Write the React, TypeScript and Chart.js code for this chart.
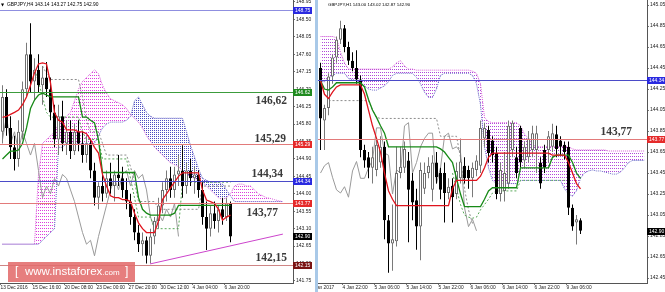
import React, { useEffect, useRef } from "react";
import { Chart, registerables } from "chart.js";

Chart.register(...registerables);

const symbolName = "GBPJPY";

/* ===================== H4 panel (left) ===================== */
const h4Title = [143.14, 143.27, 142.75, 142.9];
const h4Open = [
  145.6, 146.5, 145.7, 145.2, 144.9, 145.6, 146.7, 147.6, 146.9, 147.2,
  146.8, 147.0, 146.7, 146.1, 145.4, 146.0, 145.3, 145.6, 145.1, 145.6,
  145.3, 145.0, 145.3, 144.6, 143.9, 144.2, 144.0, 144.4, 144.2, 144.5,
  144.4, 144.1, 143.8, 143.4, 143.0, 142.7, 142.8, 142.4, 142.9, 143.3,
  143.7, 144.1, 144.4, 144.1, 144.5, 144.6, 144.2, 144.6, 144.4, 144.5,
  144.1, 143.4, 143.1, 143.5, 143.3, 143.6, 143.4, 143.75,
];
const h4High = [
  146.8, 146.7, 146.0, 145.5, 145.9, 146.9, 147.9, 148.4, 147.5, 147.6,
  147.3, 147.4, 147.0, 146.3, 146.3, 146.4, 145.9, 145.9, 145.8, 145.9,
  145.6, 145.5, 145.4, 144.8, 144.3, 144.5, 144.6, 144.8, 144.6, 145.0,
  144.7, 144.4, 144.0, 143.6, 143.2, 143.0, 142.9, 143.1, 143.4, 143.9,
  144.3, 144.6, 144.7, 144.7, 145.0, 145.25, 144.8, 144.9, 144.7, 144.6,
  144.3, 143.8, 143.7, 143.8, 143.7, 143.9, 143.9, 143.8,
];
const h4Low = [
  145.3, 145.5, 144.9, 144.6, 144.7, 145.4, 146.5, 146.6, 146.4, 146.6,
  146.3, 146.5, 145.9, 145.2, 145.0, 145.1, 145.0, 144.9, 145.0, 145.1,
  144.8, 144.8, 144.4, 143.7, 143.6, 143.8, 143.9, 144.0, 143.8, 144.2,
  143.9, 143.6, 143.2, 142.8, 142.5, 142.4, 142.2, 142.2, 142.7, 143.1,
  143.5, 143.8, 143.9, 143.9, 144.2, 143.9, 144.0, 144.2, 144.0, 143.9,
  143.2, 142.55, 142.9, 143.1, 143.0, 143.2, 143.3, 142.75,
];
const h4Close = [
  146.5, 145.7, 145.2, 144.9, 145.6, 146.7, 147.6, 146.9, 147.2, 146.8,
  147.0, 146.7, 146.1, 145.4, 146.0, 145.3, 145.6, 145.1, 145.6, 145.3,
  145.0, 145.3, 144.6, 143.9, 144.2, 144.0, 144.4, 144.2, 144.5, 144.4,
  144.1, 143.8, 143.4, 143.0, 142.7, 142.8, 142.4, 142.9, 143.3, 143.7,
  144.1, 144.4, 144.1, 144.5, 144.6, 144.2, 144.6, 144.4, 144.5, 144.1,
  143.4, 143.1, 143.5, 143.3, 143.6, 143.4, 143.75, 142.9,
];
const h4Tenkan = [
  145.97, 146.0, 146.05, 146.1, 146.16, 146.3, 146.5, 146.8, 147.12, 147.35,
  147.38, 147.35, 146.86, 146.1, 145.9, 145.85, 145.65, 145.65, 145.65, 145.6,
  145.6, 145.55, 145.4, 145.2, 145.05, 144.5, 144.2, 143.95, 143.9, 143.9,
  143.85, 143.85, 143.8, 143.5, 143.25, 143.1, 143.0, 143.0, 143.0, 143.3,
  143.85, 144.0, 144.15, 144.3, 144.45, 144.54, 144.54, 144.54, 144.54, 144.54,
  144.1, 143.84, 143.8, 143.75, 143.6, 143.32, 143.4, 143.45,
];
const h4Kijun = [
  144.9, 145.0, 145.1, 145.1, 145.13, 145.3, 145.7, 146.2, 146.42, 146.55,
  146.6, 146.55, 146.5, 146.5, 146.5, 146.5, 146.5, 146.5, 146.5, 146.5,
  145.98, 145.98, 145.9, 145.83, 145.4, 144.55, 144.55, 144.55, 144.55, 144.55,
  144.55, 144.55, 144.55, 144.55, 143.9, 143.6, 143.5, 143.45, 143.45, 143.45,
  143.45, 143.45, 143.45, 143.5, 143.7, 143.7, 143.7, 143.7, 143.7, 143.7,
  143.7, 143.7, 143.7, 143.7, 143.7, 143.7, 143.7, 143.7,
];
const h4SpanA = [
  142.7, 142.7, 142.7, 142.7, 142.7, 142.7, 142.7, 142.7, 142.7, 144.5,
  145.3, 145.4, 145.5, 145.6, 145.8, 145.9, 146.0, 146.1, 146.4, 146.7,
  146.9, 147.0, 147.1, 147.2, 147.1, 146.8, 146.6, 146.45, 146.4, 146.35,
  146.3, 146.2, 146.05, 145.95, 145.85, 145.7, 145.5, 145.35, 145.2, 145.1,
  145.0, 144.9, 144.8, 144.75, 144.7, 144.6, 144.5, 144.45, 144.4, 144.35,
  144.3, 144.2, 144.1, 144.0, 143.9, 143.85, 143.9, 144.0, 144.2, 144.25,
  144.25, 144.2, 144.2, 144.1, 144.0, 143.95, 143.9, 143.88, 143.85, 143.82,
  143.8,
];
const h4SpanB = [
  142.7, 142.7, 142.7, 142.7, 142.7, 142.7, 142.7, 142.7, 142.7, 142.7,
  142.8, 142.9, 143.0, 143.1, 145.2, 145.2, 145.3, 145.3, 145.3, 145.3,
  145.3, 145.3, 145.3, 145.3, 145.5, 145.7, 145.8, 145.85, 145.85, 145.85,
  145.85, 145.9, 146.0, 146.4, 146.5, 146.3, 146.1, 146.0, 145.95, 145.95,
  145.95, 145.95, 145.95, 145.95, 145.95, 145.95, 145.6, 145.25, 144.95, 144.65,
  144.4, 144.35, 144.3, 144.3, 144.3, 144.25, 144.1, 143.95, 143.8, 143.8,
  143.8, 143.8, 143.8, 143.8, 143.8, 143.8, 143.8, 143.8, 143.8, 143.8,
  143.8,
];
const h4DashGray = [
  null, null, null, null, null, null, null, null, null, null,
  147.3, 147.1, 146.95, 146.95, 146.95, 146.95, 146.95, 146.95, 146.95, 146.95,
  146.5, 145.9, 145.6, 145.6, 145.6, 145.3, 145.0, 145.0, 145.0, 145.0,
  145.0, 145.0, 144.7, 144.3, 143.8, 143.8, 143.8, 143.8, 143.8, 143.6,
  143.6, 143.6, 143.6, 143.6, 143.6, 143.6, 143.6, 143.6, 143.6, 143.6,
  144.2, 144.2, 144.2, 144.2, 144.2, 144.2, 144.2, 144.2,
];
const h4DashGreen = [
  null, null, null, null, null, null, null, null, 147.2, 146.9,
  146.5, 146.1, 145.98, 145.98, 145.98, 145.98, 145.98, 145.98, 145.98, 145.98,
  145.6, 145.4, 145.4, 145.4, 145.4, 144.9, 144.9, 144.9, 144.9, 144.9,
  144.9, 144.9, 144.4, 143.9, 143.4, 143.4, 143.4, 143.4, 143.1, 143.1,
  143.1, 143.1, 143.1, 143.1, 143.1, 144.3, 144.3, 144.3, 144.3, 144.3,
  144.3, 144.3, 144.3, 144.3, 144.3, 144.3, 144.3, 144.3,
];
const h4ChikouShift = 13;
const h4TrendX = [36.9, 70.1];
const h4TrendY = [142.19, 142.96];
const h4YTicks = [
  148.95, 148.5, 148.05, 147.6, 147.15, 146.7, 146.25, 145.8, 145.35,
  144.9, 144.45, 144.0, 143.55, 143.1, 142.65, 142.2, 141.75,
];
const h4XLabels = [
  "13 Dec 2016", "15 Dec 16:00", "20 Dec 08:00", "23 Dec 00:00",
  "27 Dec 20:00", "30 Dec 12:00", "4 Jan 04:00", "6 Jan 20:00",
];
const h4XLabelBars = [0, 8, 16, 24, 32, 40, 48, 56];
const h4Levels = [148.75, 146.62, 145.29, 144.34, 143.77, 142.15];
const h4LevelKinds = ["violet", "green", "red", "blue", "red", "maroon"];
const h4Callouts = [146.62, 145.29, 144.34, 143.77, 142.15];

/* ===================== H1 panel (right) ===================== */
const h1Title = [143.0, 143.02, 142.87, 142.9];
const h1Open = [
  144.45, 143.95, 144.07, 144.37, 144.55, 144.72, 144.83, 144.65, 144.52, 144.45,
  144.34, 143.67, 143.6, 143.5, 143.48, 143.55, 143.7, 143.0, 142.78, 142.8,
  143.45, 143.5, 143.57, 143.38, 143.19, 142.94, 143.3, 143.45, 143.29, 143.55,
  143.45, 143.45, 143.26, 143.33, 143.25, 143.4, 143.52, 143.48, 143.4, 143.48,
  143.52, 143.78, 143.86, 143.76, 143.64, 143.25, 143.28, 143.35, 143.67, 143.6,
  143.88, 143.57, 143.6, 143.67, 143.67, 143.55, 143.67, 143.67, 143.7, 143.82,
  143.76, 143.72, 143.7, 143.12, 142.98, 143.0,
];
const h1High = [
  144.5, 144.1, 144.4, 144.58, 144.75, 144.9, 144.86, 144.7, 144.6, 144.62,
  144.38, 143.72, 143.65, 143.7, 143.78, 143.8, 143.75, 143.05, 143.15, 143.7,
  143.7, 143.75, 143.65, 143.45, 143.3, 143.55, 143.55, 143.6, 143.62, 143.65,
  143.5, 143.55, 143.4, 143.4, 143.55, 143.78, 143.6, 143.52, 143.55, 143.62,
  143.95, 143.93, 143.9, 143.8, 143.7, 143.55, 143.65, 143.95, 143.95, 143.7,
  143.9, 143.75, 143.85, 143.9, 143.9, 143.6, 143.72, 143.85, 143.92, 143.9,
  143.8, 143.75, 143.75, 143.15, 143.05, 143.02,
];
const h1Low = [
  143.67, 143.67, 144.0, 144.3, 144.5, 144.68, 144.6, 144.48, 144.42, 144.3,
  143.6, 143.5, 143.4, 143.35, 143.42, 143.5, 142.82, 142.5, 142.52, 142.75,
  143.4, 143.45, 142.79, 143.0, 142.72, 142.62, 143.25, 143.4, 143.18, 143.35,
  143.2, 142.98, 143.2, 142.98, 143.2, 143.35, 143.35, 143.3, 143.22, 143.42,
  143.45, 143.7, 143.55, 143.55, 143.2, 143.18, 143.18, 143.3, 143.6, 143.4,
  143.5, 143.5, 143.55, 143.6, 143.45, 143.3, 143.45, 143.55, 143.65, 143.6,
  143.62, 143.58, 143.05, 142.9, 142.77, 142.87,
];
const h1Close = [
  143.97, 144.07, 144.37, 144.55, 144.72, 144.83, 144.65, 144.52, 144.45, 144.34,
  143.67, 143.57, 143.5, 143.6, 143.72, 143.7, 143.0, 142.78, 142.82, 143.45,
  143.51, 143.68, 143.29, 143.17, 142.94, 143.48, 143.45, 143.52, 143.55, 143.41,
  143.29, 143.26, 143.32, 143.22, 143.47, 143.56, 143.4, 143.4, 143.5, 143.57,
  143.88, 143.88, 143.64, 143.62, 143.25, 143.48, 143.45, 143.9, 143.93, 143.45,
  143.55, 143.7, 143.78, 143.83, 143.83, 143.35, 143.5, 143.8, 143.83, 143.68,
  143.7, 143.65, 143.12, 142.94, 143.01, 142.9,
];
const h1Tenkan = [
  144.33, 144.2, 144.16, 144.22, 144.27, 144.29, 144.29, 144.29, 144.29, 144.29,
  144.29, 144.2, 144.05, 143.9, 143.78, 143.65, 143.45, 143.28, 143.2, 143.14,
  143.14, 143.14, 143.14, 143.14, 143.14, 143.14, 143.14, 143.14, 143.14, 143.14,
  143.14, 143.14, 143.14, 143.3, 143.38, 143.38, 143.38, 143.38, 143.38, 143.38,
  143.42, 143.5, 143.6, 143.64, 143.64, 143.64, 143.64, 143.64, 143.64, 143.64,
  143.64, 143.64, 143.64, 143.64, 143.64, 143.64, 143.64, 143.64, 143.62, 143.62,
  143.62, 143.62, 143.55, 143.45, 143.35, 143.3,
];
const h1Kijun = [
  144.33, 144.25, 144.24, 144.27, 144.31, 144.31, 144.31, 144.31, 144.31, 144.31,
  144.31, 144.27, 144.15, 144.05, 143.98, 143.9, 143.83, 143.7, 143.7, 143.7,
  143.7, 143.7, 143.7, 143.7, 143.7, 143.7, 143.7, 143.7, 143.7, 143.7,
  143.68, 143.65, 143.6, 143.55, 143.4, 143.25, 143.13, 143.13, 143.13, 143.13,
  143.13, 143.2, 143.28, 143.31, 143.31, 143.31, 143.31, 143.31, 143.31, 143.31,
  143.5, 143.5, 143.5, 143.5, 143.5, 143.5, 143.5, 143.5, 143.6, 143.62,
  143.62, 143.62, 143.62, 143.55, 143.45, 143.4,
];
const h1SpanA = [
  144.75, 144.75, 144.75, 144.75, 144.74, 144.6, 144.5, 144.44, 144.44, 144.44,
  144.44, 144.44, 144.44, 144.44, 144.44, 144.44, 144.44, 144.44, 144.46, 144.5,
  144.52, 144.47, 144.44, 144.44, 144.43, 144.43, 144.43, 144.43, 144.43, 144.43,
  144.43, 144.43, 144.43, 144.43, 144.43, 144.43, 144.43, 144.43, 144.42, 144.4,
  144.3, 143.98, 143.94, 143.93, 143.93, 143.93, 143.93, 143.93, 143.93, 143.93,
  143.9, 143.82, 143.78, 143.72, 143.7, 143.7, 143.7, 143.7, 143.7, 143.7,
  143.7, 143.7, 143.7, 143.68, 143.67, 143.67, 143.67, 143.67, 143.67, 143.67,
  143.67, 143.67, 143.66, 143.66, 143.66, 143.66, 143.66, 143.66, 143.66, 143.66,
  143.66, 143.66,
];
const h1SpanB = [
  144.32, 144.32, 144.35, 144.38, 144.4, 144.4, 144.4, 144.35, 144.34, 144.33,
  144.3, 144.28, 144.25, 144.24, 144.24, 144.26, 144.28, 144.32, 144.38, 144.4,
  144.4, 144.4, 144.4, 144.4, 144.36, 144.3, 144.22, 144.17, 144.17, 144.25,
  144.38, 144.4, 144.4, 144.4, 144.4, 144.4, 144.4, 144.4, 144.38, 144.3,
  144.1, 143.7, 143.5, 143.38, 143.35, 143.35, 143.35, 143.35, 143.35, 143.35,
  143.38, 143.38, 143.38, 143.38, 143.38, 143.38, 143.38, 143.38, 143.38, 143.38,
  143.38, 143.3, 143.25, 143.23, 143.28, 143.4, 143.45, 143.47, 143.48, 143.47,
  143.47, 143.46, 143.45, 143.44, 143.44, 143.46, 143.5, 143.55, 143.57, 143.57,
  143.57, 143.57,
];
const h1DashGray = [
  null, null, 144.14, 144.14, 144.14, 144.14, 144.14, 144.14, 144.14, 144.14,
  144.14, 144.14, 144.14, 144.05, 143.98, 143.97, 143.97, 143.97, 143.97, 143.97,
  143.97, 143.97, 143.97, 143.97, 143.97, 143.97, 143.97, 143.97, 143.97, 143.97,
  143.8, 143.8, 143.8, 143.8, 143.8, 143.6, 143.3, 143.1, 142.97, null,
  null, null, null, null, null, null, null, null, null, null,
  null, null, null, null, null, null, null, null, null, null,
  null, null, null, null, null, null,
];
const h1DashGreen = [
  null, null, null, null, null, null, null, null, null, null,
  null, null, null, null, null, null, null, null, null, null,
  null, null, null, null, null, null, null, null, null, null,
  null, null, null, 143.45, 143.3, 143.15, 143.05, 143.03, 143.02, 143.03,
  143.1, 143.15, 143.2, 143.26, 143.28, 143.28, 143.28, 143.28, 143.28, 143.28,
  143.38, 143.38, 143.38, 143.38, 143.38, 143.38, 143.38, 143.38, 143.38, 143.38,
  143.38, 143.38, 143.38, null, null, null,
];
const h1ChikouShift = 26;
const h1YTicks = [
  145.05, 144.85, 144.65, 144.45, 144.25, 144.05, 143.85, 143.65, 143.45,
  143.25, 143.05, 142.85, 142.65, 142.45,
];
const h1XLabels = [
  "4 Jan 22:00", "5 Jan 06:00", "5 Jan 14:00", "5 Jan 22:00",
  "6 Jan 06:00", "6 Jan 14:00", "6 Jan 22:00", "9 Jan 06:00",
];
const h1XLabelBars = [6, 14, 22, 30, 38, 46, 54, 62];
const h1FirstLabel = "3 Jan 2017";
const h1FirstLabelBar = -2;
const h1Levels = [144.34, 143.77];
const h1LevelKinds = ["blue", "red"];
const h1Callouts = [143.77];

/* ===================== styling ===================== */
const FONT = '"Liberation Sans", Arial, sans-serif';
const LEVEL_STYLE: any = {
  violet: { line: "#8f8fe0", box: "#2a2ae0" },
  green: { line: "#3c9c3c", box: "#1e8a1e" },
  red: { line: "#e27a7a", box: "#e52a2a" },
  blue: { line: "#4b4bc8", box: "#2a2ae0" },
  maroon: { line: "#cf8585", box: "#7a1414" },
};

function makeDots(ctx: CanvasRenderingContext2D, color: string, w: number, h: number) {
  const c = document.createElement("canvas");
  c.width = w;
  c.height = h;
  const g = c.getContext("2d")!;
  g.fillStyle = color;
  g.fillRect(0, 0, 1, 1);
  return ctx.createPattern(c, "repeat");
}

function makeOverlay(o: any) {
  return {
    id: "overlay",
    afterDatasetsDraw(chart: any) {
      const { ctx, chartArea: a, scales } = chart;
      const y = scales.y;
      ctx.save();
      ctx.beginPath();
      ctx.rect(a.left, a.top, a.right - a.left, a.bottom - a.top);
      ctx.clip();
      o.levels.forEach((v: number, k: number) => {
        const py = Math.round(y.getPixelForValue(v)) + 0.5;
        ctx.strokeStyle = LEVEL_STYLE[o.kinds[k]].line;
        ctx.lineWidth = 1;
        ctx.beginPath();
        ctx.moveTo(a.left, py);
        ctx.lineTo(a.right, py);
        ctx.stroke();
      });
      ctx.restore();
    },
    afterDraw(chart: any) {
      const { ctx, chartArea: a, scales } = chart;
      const y = scales.y;
      const x = scales.x;
      ctx.save();
      const boxes = o.levels.map((v: number, k: number) => ({ v, c: LEVEL_STYLE[o.kinds[k]].box }));
      boxes.push({ v: o.current, c: "#000" });
      ctx.font = `5px ${FONT}`;
      ctx.textBaseline = "middle";
      ctx.textAlign = "left";
      for (const b of boxes) {
        const py = Math.round(y.getPixelForValue(b.v));
        ctx.fillStyle = b.c;
        ctx.fillRect(a.right, py - 3, o.boxW, 7);
        ctx.fillStyle = "#fff";
        ctx.fillText(b.v.toFixed(2), a.right + 2, py + 0.5);
      }
      ctx.font = `bold 11.5px "Liberation Serif", "Times New Roman", serif`;
      ctx.textAlign = "right";
      ctx.textBaseline = "alphabetic";
      ctx.fillStyle = "#3a3a3a";
      o.callouts.forEach((v: number, k: number) => {
        const L = o.calloutLayout[k];
        const py = Math.round(y.getPixelForValue(v));
        ctx.fillText(v.toFixed(2).replace(".", ","), a.right - L.dx, py + L.dy);
      });
      ctx.textAlign = "left";
      ctx.textBaseline = "middle";
      ctx.fillStyle = "#000";
      if (o.triangle) {
        ctx.font = `4px "DejaVu Sans", sans-serif`;
        ctx.fillText("▼", a.left + 1, 4.5);
      }
      ctx.font = `${o.titleSize}px ${FONT}`;
      ctx.fillText(o.title, a.left + o.titleDx, 4.5);
      if (o.firstLabel) {
        ctx.font = `4.8px ${FONT}`;
        ctx.fillStyle = "#222";
        ctx.textBaseline = "top";
        ctx.fillText(o.firstLabel.text, x.getPixelForValue(o.firstLabel.bar - 0.5), a.bottom + 2);
      }
      if (o.watermark) {
        ctx.fillStyle = "rgba(226, 108, 108, 0.88)";
        ctx.fillRect(8, 262, 127, 20);
        ctx.fillStyle = "#fff";
        ctx.textBaseline = "middle";
        ctx.textAlign = "left";
        ctx.font = `12px ${FONT}`;
        ctx.fillText("[", 15, 272);
        ctx.font = `11.5px ${FONT}`;
        ctx.fillText("www.instaforex", 25, 272);
        const w = ctx.measureText("www.instaforex").width;
        ctx.font = `8px ${FONT}`;
        ctx.fillText(".com", 25 + w, 273);
        ctx.font = `12px ${FONT}`;
        ctx.fillText("]", 125, 272);
      }
      ctx.restore();
    },
  };
}

function buildConfig(canvas: HTMLCanvasElement, p: any): any {
  const ctx2d = canvas.getContext("2d")!;
  const pink = makeDots(ctx2d, p.pinkDot, 2, 3);
  const blue = makeDots(ctx2d, "#4c4cc0", 2, 2);
  const pts = (arr: any[]) => arr.map((v, i) => ({ x: i, y: v }));
  const bull = (i: number) => p.close[i] >= p.open[i];
  const line = (extra: any) => ({
    type: "line",
    pointRadius: 0,
    pointHoverRadius: 0,
    borderWidth: 1,
    fill: false,
    tension: 0,
    ...extra,
  });
  const datasets: any[] = [
    line({
      data: p.trendX ? p.trendX.map((x: number, k: number) => ({ x, y: p.trendY[k] })) : [],
      borderColor: "#cc44cc",
      order: 1,
    }),
    line({ data: pts(p.tenkan), borderColor: "#e0141e", borderWidth: 1.3, order: 2 }),
    line({ data: pts(p.kijun), borderColor: "#178a17", borderWidth: 1.3, order: 3 }),
    {
      type: "bar",
      data: p.open.map((o: number, i: number) => ({ x: i, y: [o, p.close[i]] })),
      backgroundColor: p.open.map((_: number, i: number) => (bull(i) ? "#ffffff" : "#000000")),
      borderColor: p.open.map((_: number, i: number) => (bull(i) ? "#6e6e6e" : "#000000")),
      borderWidth: 1,
      borderSkipped: false,
      barThickness: 3,
      grouped: false,
      minBarLength: 1,
      inflateAmount: 0,
      order: 4,
    },
    {
      type: "bar",
      data: p.low.map((l: number, i: number) => ({ x: i, y: [l, p.high[i]] })),
      backgroundColor: p.open.map((_: number, i: number) => (bull(i) ? "#7a7a7a" : "#000000")),
      borderWidth: 0,
      barThickness: 1,
      grouped: false,
      inflateAmount: 0,
      order: 5,
    },
    line({ data: pts(p.dashGreen), borderColor: "#58a858", borderDash: [2, 2], order: 6 }),
    line({ data: pts(p.dashGray), borderColor: "#8c8c8c", borderDash: [2, 2], order: 7 }),
    line({ data: pts(p.close.slice(p.shift)), borderColor: "#9a9a9a", order: 8 }),
    line({
      data: pts(p.spanA),
      borderColor: "#d860d8",
      borderDash: [1, 1],
      fill: { target: "+1", above: pink, below: blue },
      order: 10,
    }),
    line({ data: pts(p.spanB), borderColor: "#6a6ac8", borderDash: [1, 1], order: 9 }),
  ];
  return {
    type: "bar",
    data: { datasets },
    options: {
      responsive: false,
      animation: false,
      devicePixelRatio: 1,
      events: [],
      layout: { padding: { left: p.padLeft, right: 0, top: 0, bottom: 0 } },
      plugins: { legend: { display: false }, tooltip: { enabled: false }, title: { display: false } },
      scales: {
        x: {
          type: "linear",
          min: p.xMin,
          max: p.xMax,
          offset: false,
          grid: { display: true, drawOnChartArea: false, drawTicks: true, tickLength: 2, color: "#777", offset: false },
          border: { display: true, color: "#555", width: 1 },
          ticks: {
            autoSkip: false,
            maxRotation: 0,
            minRotation: 0,
            align: "start",
            padding: 0,
            color: "#222",
            font: { size: 4.8, family: FONT },
            callback: (_v: any, i: number) => p.xLabels[i] ?? "",
          },
          afterBuildTicks: (s: any) => {
            s.ticks = p.xBars.map((b: number) => ({ value: b - 0.5 }));
          },
          afterFit: (s: any) => {
            s.height = 9;
            s.paddingLeft = 0;
            s.paddingRight = 0;
          },
        },
        y: {
          type: "linear",
          position: "right",
          min: p.yMin,
          max: p.yMax,
          beginAtZero: false,
          grid: { display: true, drawOnChartArea: false, drawTicks: true, tickLength: 2, color: "#777" },
          border: { display: true, color: "#555", width: 1 },
          ticks: {
            autoSkip: false,
            padding: 1,
            color: "#222",
            font: { size: 5, family: FONT },
            callback: (v: any) => Number(v).toFixed(2),
          },
          afterBuildTicks: (s: any) => {
            s.ticks = p.yTicks.map((v: number) => ({ value: v }));
          },
          afterFit: (s: any) => {
            s.width = p.axisW;
            s.paddingTop = 0;
            s.paddingBottom = 0;
          },
        },
      },
    },
    plugins: [makeOverlay(p.overlay)],
  };
}

export default function App() {
  const leftRef = useRef<HTMLCanvasElement>(null);
  const rightRef = useRef<HTMLCanvasElement>(null);

  useEffect(() => {
    document.body.style.margin = "0";
    const charts: Chart[] = [];
    if (leftRef.current) {
      const c = leftRef.current;
      charts.push(
        new Chart(
          c,
          buildConfig(c, {
            open: h4Open, high: h4High, low: h4Low, close: h4Close,
            tenkan: h4Tenkan, kijun: h4Kijun, spanA: h4SpanA, spanB: h4SpanB,
            dashGray: h4DashGray, dashGreen: h4DashGreen, shift: h4ChikouShift,
            trendX: h4TrendX, trendY: h4TrendY,
            pinkDot: "#dc3cdc",
            xMin: -0.625, xMax: 72.625, yMin: 141.698, yMax: 149.0016,
            yTicks: h4YTicks, xLabels: h4XLabels, xBars: h4XLabelBars,
            padLeft: 0, axisW: 23,
            overlay: {
              levels: h4Levels, kinds: h4LevelKinds, current: h4Close[h4Close.length - 1],
              boxW: 19, callouts: h4Callouts,
              calloutLayout: [
                { dx: 6, dy: 12 }, { dx: 7, dy: -2 }, { dx: 10, dy: -4 },
                { dx: 15, dy: 13 }, { dx: 6, dy: -4 },
              ],
              title: `${symbolName},H4 ${h4Title.map((v) => v.toFixed(2)).join(" ")}`,
              titleSize: 4.9, titleDx: 7, triangle: true, watermark: true,
            },
          })
        )
      );
    }
    if (rightRef.current) {
      const c = rightRef.current;
      charts.push(
        new Chart(
          c,
          buildConfig(c, {
            open: h1Open, high: h1High, low: h1Low, close: h1Close,
            tenkan: h1Tenkan, kijun: h1Kijun, spanA: h1SpanA, spanB: h1SpanB,
            dashGray: h1DashGray, dashGreen: h1DashGreen, shift: h1ChikouShift,
            trendX: null, trendY: null,
            pinkDot: "#b048d8",
            xMin: -0.625, xMax: 81.625, yMin: 142.403, yMax: 145.098,
            yTicks: h1YTicks, xLabels: h1XLabels, xBars: h1XLabelBars,
            padLeft: 2, axisW: 18,
            overlay: {
              levels: h1Levels, kinds: h1LevelKinds, current: h1Close[h1Close.length - 1],
              boxW: 18, callouts: h1Callouts,
              calloutLayout: [{ dx: 15, dy: -4 }],
              title: `${symbolName},H1 ${h1Title.map((v) => v.toFixed(2)).join(" ")}`,
              titleSize: 4.4, titleDx: 10, triangle: false, watermark: false,
              firstLabel: { text: h1FirstLabel, bar: h1FirstLabelBar },
            },
          })
        )
      );
    }
    return () => charts.forEach((ch) => ch.destroy());
  }, []);

  return (
    <div
      style={{
        position: "fixed",
        left: 0,
        top: 0,
        width: 665,
        height: 292,
        background: "#fff",
        overflow: "hidden",
      }}
    >
      <canvas
        ref={leftRef}
        width={316}
        height={292}
        style={{ position: "absolute", left: 0, top: 0, width: 316, height: 292 }}
      />
      <canvas
        ref={rightRef}
        width={349}
        height={292}
        style={{ position: "absolute", left: 316, top: 0, width: 349, height: 292 }}
      />
      <div
        style={{
          position: "absolute",
          left: 315,
          top: 0,
          width: 3,
          height: 292,
          background: "#a9c9e8",
        }}
      />
    </div>
  );
}
